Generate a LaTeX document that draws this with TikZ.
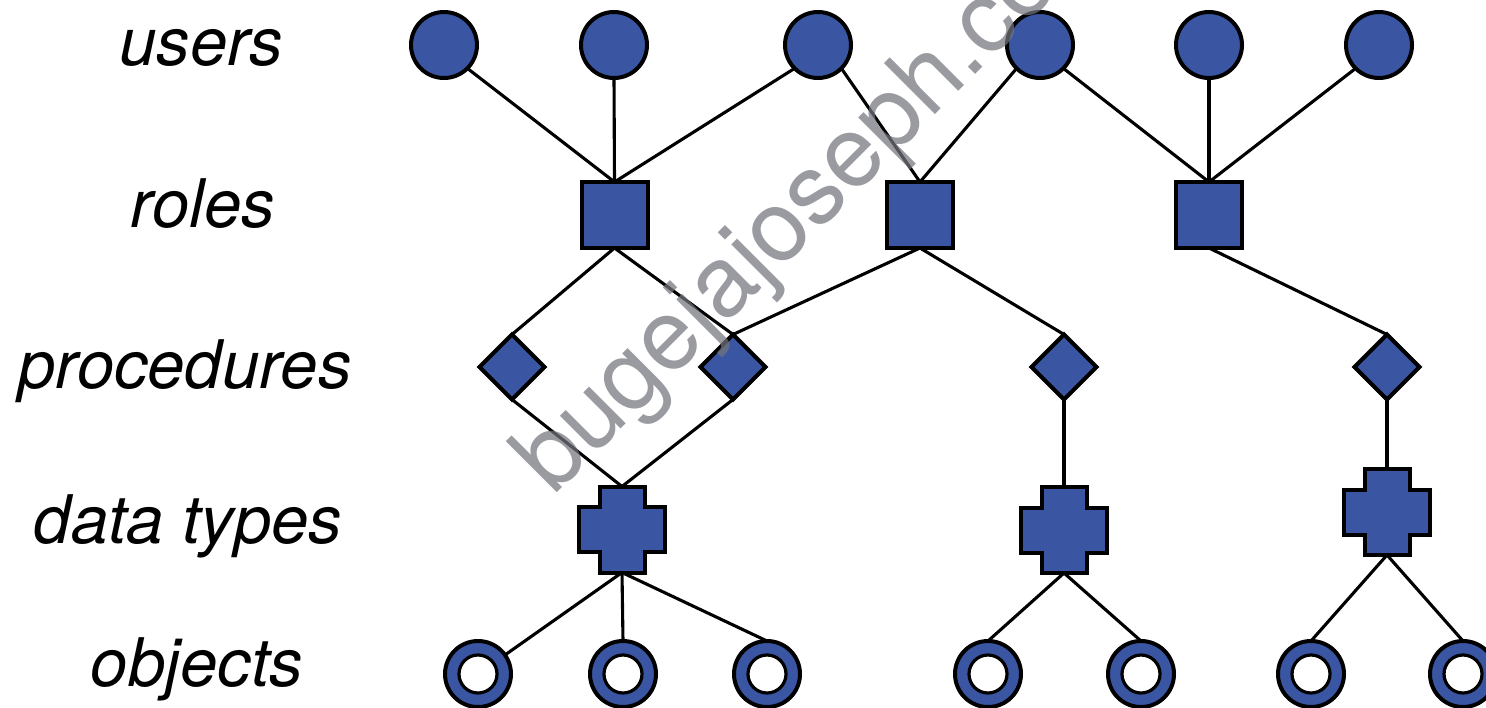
\documentclass[tikz,border=0pt]{standalone}
\usepackage{fontspec}
\setmainfont{TeX Gyre Heros}
\usetikzlibrary{shapes.geometric,backgrounds}
\definecolor{nodeblue}{RGB}{58,86,163}
\definecolor{wmgray}{RGB}{115,117,124}
\begin{document}
\begin{tikzpicture}[x=1pt,y=-1pt,
  shapebase/.style={fill=nodeblue,draw=black,line width=4pt,inner sep=0pt,outer sep=0pt},
  userdot/.style={shapebase,circle,minimum size=66pt},
  rolebox/.style={shapebase,rectangle,minimum size=66pt},
  procbox/.style={shapebase,diamond,minimum width=65pt,minimum height=65pt},
  typebox/.style={rectangle,inner sep=0pt,outer sep=0pt,minimum size=86pt},
  typeshape/.style={fill=nodeblue,draw=black,line width=4pt,line join=miter},
  objring/.style={shapebase,circle,minimum size=66pt,
    path picture={\draw[fill=white,draw=black,line width=3.2pt] (path picture bounding box.center) circle (19);}},
  conn/.style={draw=black,line width=3.1pt},
  levellabel/.style={anchor=base,inner sep=0pt,font=\itshape\fontsize{67}{70}\selectfont},
  watermark/.style={anchor=base west,inner sep=0pt,rotate=45,text=wmgray,opacity=0.72,font=\fontsize{99}{104}\selectfont}]
\useasboundingbox (0,0) rectangle (1486,707);

% level labels
\node[levellabel] (lusers) at (201,65) {users};
\node[levellabel] (lroles) at (203,227) {roles};
\node[levellabel] (lproc) at (185,388) {procedures};
\node[levellabel] (ltypes) at (188,543) {data types};
\node[levellabel] (lobj) at (197,686) {objects};

% users
\node[userdot] (u1) at (444,45) {};
\node[userdot] (u2) at (614,45) {};
\node[userdot] (u3) at (818,45) {};
\node[userdot] (u4) at (1040,45) {};
\node[userdot] (u5) at (1209,45) {};
\node[userdot] (u6) at (1379,45) {};

% roles
\node[rolebox] (r1) at (614.5,215) {};
\node[rolebox] (r2) at (920,215) {};
\node[rolebox] (r3) at (1209,215) {};

% procedures
\node[procbox] (p1) at (512,367) {};
\node[procbox] (p2) at (733,367) {};
\node[procbox] (p3) at (1064,367) {};
\node[procbox] (p4) at (1387,367) {};

% data types
\node[typebox] (t1) at (622,529.5) {};
\node[typebox] (t2) at (1064,530) {};
\node[typebox] (t3) at (1387,512) {};
\foreach \t in {t1,t2,t3}{
  \begin{scope}[shift={(\t.center)}]
    \path[typeshape] (-22.5,-43) -- (22.5,-43) -- (22.5,-22.5) -- (43,-22.5) -- (43,22.5) -- (22.5,22.5) -- (22.5,43) -- (-22.5,43) -- (-22.5,22.5) -- (-43,22.5) -- (-43,-22.5) -- (-22.5,-22.5) -- cycle;
  \end{scope}
}

% objects
\node[objring] (o1) at (478,674) {};
\node[objring] (o2) at (623,674) {};
\node[objring] (o3) at (767,674) {};
\node[objring] (o4) at (988,674) {};
\node[objring] (o5) at (1141,674) {};
\node[objring] (o6) at (1311,674) {};
\node[objring] (o7) at (1463,674) {};

% connectors
\begin{scope}[on background layer]
  \fill[white] (0,0) rectangle (1486,707);
  \draw[conn] (u1.south east) -- (r1.north);
  \draw[conn] (u2.south) -- (r1.north);
  \draw[conn] (u3.south west) -- (r1.north);
  \draw[conn] (u3.south east) -- (r2.north);
  \draw[conn] (u4.south west) -- (r2.north);
  \draw[conn] (u4.south east) -- (r3.north);
  \draw[conn] (u5.south) -- (r3.north);
  \draw[conn] (u6.south west) -- (r3.north);
  \draw[conn] (r1.south) -- (p1.north);
  \draw[conn] (r1.south) -- (p2.north);
  \draw[conn] (r2.south) -- (p2.north);
  \draw[conn] (r2.south) -- (p3.north);
  \draw[conn] (r3.south) -- (p4.north);
  \draw[conn] (p1.south) -- (t1.north);
  \draw[conn] (p2.south) -- (t1.north);
  \draw[conn] (p3.south) -- (t2.north);
  \draw[conn] (p4.south) -- (t3.north);
  \draw[conn] (t1.south) -- (o1);
  \draw[conn] (t1.south) -- (o2.north);
  \draw[conn] (t1.south) -- (o3.north);
  \draw[conn] (t2.south) -- (o4.north);
  \draw[conn] (t2.south) -- (o5.north);
  \draw[conn] (t3.south) -- (o6.north);
  \draw[conn] (t3.south) -- (o7.north);
\end{scope}

% watermark
\begin{scope}
  \clip (0,0) rectangle (1486,707);
  \node[watermark] (wm) at (553,497) {bugejajoseph.com};
\end{scope}
\end{tikzpicture}
\end{document}
